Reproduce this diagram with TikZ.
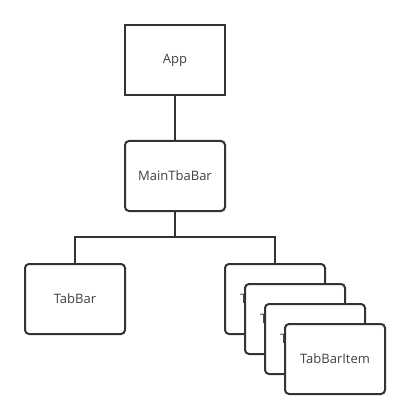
\documentclass[tikz,border=0pt]{standalone}
\usepackage{fontspec}
\setmainfont{Open Sans}
\begin{document}
\begin{tikzpicture}[x=1pt,y=-1pt,
  box/.style={draw=black!80,line width=2pt,fill=white,minimum width=100pt,minimum height=70pt,inner sep=0pt,text=black!75,font=\fontsize{13}{15}\selectfont},
  rbox/.style={box,rounded corners=4pt},
  conn/.style={draw=black!80,line width=2pt}]
\useasboundingbox (0,0) rectangle (410,419);
\node[box] (app) at (175,60) {\raisebox{-1pt}{App}};
\node[rbox] (main) at (175,176) {MainTbaBar};
\node[rbox] (tabbar) at (75,299) {TabBar};
\node[rbox] (i1) at (275,299) {TabBarItem};
\node[rbox] (i2) at (295,319) {TabBarItem};
\node[rbox] (i3) at (315,339) {TabBarItem};
\node[rbox] (i4) at (335,359) {TabBarItem};
\coordinate (j) at (175,237);
\draw[conn] (app) -- (main);
\draw[conn] (main) -- (j);
\draw[conn] (tabbar.north) |- (j) -| (i1.north);
\end{tikzpicture}
\end{document}
